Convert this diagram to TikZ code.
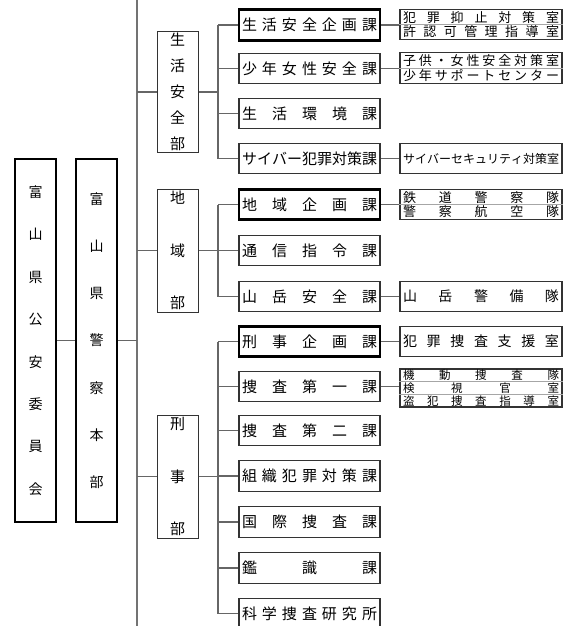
\documentclass[tikz,border=0pt]{standalone}
\usepackage{fontspec}
\setmainfont{Noto Sans CJK JP}
\usepackage{tikz}
\usetikzlibrary{calc}

% spread single characters evenly over a given width / height
\def\spreadchars#1#2{#1\ifx\relax#2\else\spreadsep\expandafter\spreadchars\expandafter#2\fi}
\newcommand\hspread[2]{\makebox[#1][s]{\let\spreadsep\hfill\spreadchars#2\relax}}
\newcommand\vspreadsep{\par\vfill}
\newcommand\vspread[2]{\parbox[c][#1][s]{2em}{\centering\let\spreadsep\vspreadsep\spreadchars#2\relax}}

\begin{document}
\begin{tikzpicture}[x=1pt, y=-1pt,
  link/.style={draw=black!60, line width=1.2pt},
  trunk/.style={draw=black!55, line width=1.8pt},
  divider/.style={draw=black!35, line width=0.6pt},
  topbox/.style={draw=black, line width=2pt, minimum width=41pt, minimum height=363pt,
                 inner sep=0pt, font=\fontsize{14}{14}\selectfont},
  dept/.style={draw=black!80, line width=1pt, minimum width=41pt, inner sep=0pt,
               font=\fontsize{15}{15}\selectfont},
  sect/.style={draw=black!80, line width=1.2pt, minimum width=141pt, minimum height=30.5pt,
               inner sep=0pt, font=\fontsize{15}{15}\selectfont},
  lead/.style={sect, draw=black, line width=2.6pt},
  subbox/.style={draw=black!80, line width=1.2pt, minimum width=162pt, minimum height=30.5pt,
                 inner sep=0pt, align=center, font=\fontsize{13}{14.5}\selectfont},
]
  \useasboundingbox (0,0) rectangle (576,626);

  % left column
  \node[topbox] (iinkai) at (35.5,340.5) {\vspread{309pt}{富山県公安委員会}};
  \node[topbox] (honbu) at (96.5,340.5) {\vspread{295pt}{富山県警察本部}};

  % departments
  \node[dept, minimum height=120pt] (seian) at (177.5,92) {\vspread{116pt}{生活安全部}};
  \node[dept, minimum height=123pt] (chiiki) at (177.5,250.5) {\vspread{118pt}{地域部}};
  \node[dept, minimum height=123pt] (keiji) at (177.5,476.5) {\vspread{118pt}{刑事部}};

  % sections
  \node[lead] (seian1) at (309.5,25) {\hspread{135pt}{生活安全企画課}};
  \node[sect] (seian2) at (309.5,68.5) {\hspread{135pt}{少年女性安全課}};
  \node[sect] (seian3) at (309.5,113.5) {\hspread{135pt}{生活環境課}};
  \node[sect] (seian4) at (309.5,158.5) {\hspread{135pt}{サイバー犯罪対策課}};
  \node[lead] (chiiki1) at (309.5,204.5) {\hspread{135pt}{地域企画課}};
  \node[sect] (chiiki2) at (309.5,250.5) {\hspread{135pt}{通信指令課}};
  \node[sect] (chiiki3) at (309.5,296.5) {\hspread{135pt}{山岳安全課}};
  \node[lead] (keiji1) at (309.5,341.5) {\hspread{135pt}{刑事企画課}};
  \node[sect] (keiji2) at (309.5,386.5) {\hspread{135pt}{捜査第一課}};
  \node[sect] (keiji3) at (309.5,430.5) {\hspread{135pt}{捜査第二課}};
  \node[sect] (keiji4) at (309.5,476) {\hspread{135pt}{組織犯罪対策課}};
  \node[sect] (keiji5) at (309.5,522) {\hspread{135pt}{国際捜査課}};
  \node[sect] (keiji6) at (309.5,568) {\hspread{135pt}{鑑識課}};
  \node[sect] (keiji7) at (309.5,613.5) {\hspread{135pt}{科学捜査研究所}};

  % offices
  \node[subbox] (seian1sub) at (481,24.5) {\hspread{156pt}{犯罪抑止対策室}\\\hspread{156pt}{許認可管理指導室}};
  \node[subbox] (seian2sub) at (481,68) {\hspread{156pt}{子供・女性安全対策室}\\\hspread{156pt}{少年サポートセンター}};
  \node[subbox, font=\fontsize{12}{14}\selectfont] (seian4sub) at (481,158.5) {\hspread{156pt}{サイバーセキュリティ対策室}};
  \node[subbox] (chiiki1sub) at (481,204.5) {\hspread{156pt}{鉄道警察隊}\\\hspread{156pt}{警察航空隊}};
  \node[subbox, font=\fontsize{14}{14}\selectfont] (chiiki3sub) at (481,296.5) {\hspread{156pt}{山岳警備隊}};
  \node[subbox, font=\fontsize{14}{14}\selectfont] (keiji1sub) at (481,341.5) {\hspread{156pt}{犯罪捜査支援室}};
  \node[subbox, minimum height=38pt, font=\fontsize{11.5}{12.7}\selectfont] (keiji2sub) at (481,388)
    {\hspread{156pt}{機動捜査隊}\\\hspread{156pt}{検視官室}\\\hspread{156pt}{盗犯捜査指導室}};

  \draw[divider] (seian1sub.west) -- (seian1sub.east);
  \draw[divider] (seian2sub.west) -- (seian2sub.east);
  \draw[divider] (chiiki1sub.west) -- (chiiki1sub.east);
  \draw[divider] ($(keiji2sub.north west)!1/3!(keiji2sub.south west)$) -- ($(keiji2sub.north east)!1/3!(keiji2sub.south east)$);
  \draw[divider] ($(keiji2sub.north west)!2/3!(keiji2sub.south west)$) -- ($(keiji2sub.north east)!2/3!(keiji2sub.south east)$);

  % connectors
  \coordinate (trunktop) at (137,0);
  \coordinate (trunkend) at (137,626);
  \coordinate (bus) at (218,0);
  \draw[trunk] (trunktop) -- (trunkend);
  \draw[link] (iinkai) -- (honbu);
  \draw[link] (honbu.east) -- (honbu.east -| trunktop);
  \foreach \d in {seian,chiiki,keiji} {
    \draw[link] (trunktop |- \d.west) -- (\d.west);
    \draw[link] (\d.east) -- (bus |- \d.east);
  }
  \draw[link] (bus |- seian1.west) -- (bus |- seian4.west);
  \draw[link] (bus |- chiiki1.west) -- (bus |- chiiki3.west);
  \draw[link] (bus |- keiji1.west) -- (bus |- keiji7.west);
  \foreach \s in {seian1,seian2,seian3,seian4,chiiki1,chiiki2,chiiki3,
                  keiji1,keiji2,keiji3,keiji4,keiji5,keiji6,keiji7}
    \draw[link] (bus |- \s.west) -- (\s.west);
  \foreach \s in {seian1,seian2,seian4,chiiki1,chiiki3,keiji1,keiji2}
    \draw[link] (\s.east) -- (\s.east -| \s sub.west);
\end{tikzpicture}
\end{document}
